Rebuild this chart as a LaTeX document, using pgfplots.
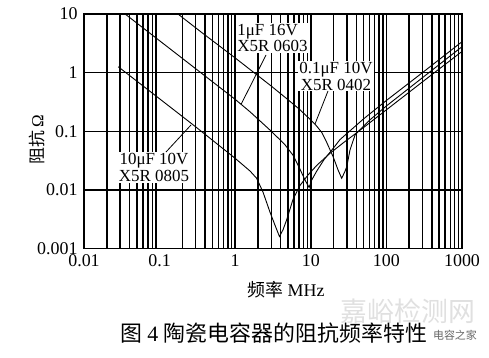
\documentclass[border=0pt]{standalone}
\usepackage{pgfplots}
\pgfplotsset{compat=1.18}
\usepackage{fontspec}
\setmainfont{Liberation Serif}
\newfontfamily\cjk{Noto Sans CJK SC}

\begin{document}
\begin{tikzpicture}
\path[use as bounding box] (0bp,0bp) rectangle (489bp,-358bp);
\begin{axis}[
  at={(84bp,-248.5bp)}, anchor=south west,
  width=378bp, height=234.5bp, scale only axis,
  xmode=log, ymode=log,
  xmin=0.01, xmax=1000, ymin=0.001, ymax=10,
  xtick={0.01,0.1,1,10,100,1000},
  xticklabels={0.01,0.1,1,10,100,1000},
  ytick={0.001,0.01,0.1,1,10},
  yticklabels={0.001,0.01,0.1,1,10},
  minor xtick={0.02,0.03,0.04,0.05,0.06,0.07,0.08,0.09,0.2,0.3,0.4,0.5,0.6,0.7,0.8,0.9,1,2,3,4,5,6,7,8,9,10,20,30,40,50,60,70,80,90,100,200,300,400,500,600,700,800,900},
  xminorgrids=true, xmajorgrids=false, ymajorgrids=true, yminorgrids=false,
  major tick length=0pt, minor tick length=0pt,
  grid style={black, line width=1.5bp},
  minor grid style={black, line width=1.5bp},
  axis line style={black, line width=1.5bp},
  tick label style={font=\fontsize{18}{18}\selectfont},
  xticklabel style={yshift=-3bp},
  yticklabel style={xshift=-3bp},
]
% 10uF 10V X5R 0805
\addplot[black, line width=0.9bp] coordinates {
(0.0284,1.26) (0.1,0.358) (0.3,0.119) (1,0.0345) (1.57,0.021) (1.92,0.0158)
(2.33,0.0092) (2.88,0.0042) (3.36,0.0025) (3.85,0.0016) (4.3,0.0021) (4.8,0.0031)
(5.82,0.0069) (7.2,0.0119) (9.2,0.018) (12,0.0262) (17.9,0.042) (26.7,0.063)
(50,0.116) (100,0.232) (300,0.696) (1000,2.3)
};
% 1uF 16V X5R 0603
\addplot[black, line width=0.9bp] coordinates {
(0.035,10) (0.1,3.5) (0.3,1.167) (1,0.35) (1.57,0.215) (2.88,0.105) (4.5,0.06)
(5.82,0.039) (7.2,0.0225) (8.37,0.0148) (9.5,0.011) (10.3,0.0148) (12,0.021)
(15,0.033) (20,0.052) (24.3,0.072) (50,0.163) (100,0.335) (300,1.0) (1000,3.37)
};
% 0.1uF 10V X5R 0402
\addplot[black, line width=0.9bp] coordinates {
(0.175,10) (0.342,5.1) (1,1.78) (3,0.59) (4.8,0.36) (7,0.24) (10.3,0.15) (12,0.122)
(14,0.095) (16.2,0.065) (19.7,0.037) (22.9,0.022) (25.6,0.0158) (28,0.02)
(29.9,0.0249) (33,0.048) (38.5,0.0865) (42.1,0.098) (60,0.155) (100,0.27)
(300,0.82) (1000,2.77)
};
\end{axis}
\begin{scope}[x=1bp, y=-1bp]
  % labels
  \node[fill=white, inner sep=1bp, align=left, font=\fontsize{17}{17}\selectfont] at (272.5,38) {1μF 16V\\X5R 0603};
  \node[fill=white, inner sep=1bp, align=center, font=\fontsize{17}{17}\selectfont] at (336,76) {0.1μF 10V\\X5R 0402};
  \node[fill=white, inner sep=1bp, align=center, font=\fontsize{17}{17}\selectfont] at (154,167.5) {10μF 10V\\X5R 0805};
  % leaders
  \draw[black, line width=0.8bp] (266,55) -- (241,104.5);
  \draw[black, line width=0.8bp] (328,91) -- (315,124);
  \draw[black, line width=0.8bp] (166,152) -- (191,125);
  % axis labels
  \node[rotate=90, font=\fontsize{17}{17}\selectfont] at (37,140) {{\cjk 阻抗}\,Ω};
  \node[font=\fontsize{18}{18}\selectfont] at (286,290) {{\cjk 频率} MHz};
  % watermark
  \node[text=black!12, font=\fontsize{27}{27}\selectfont\cjk] at (408,311) {嘉峪检测网};
  % caption
  \node[font=\fontsize{22}{22}\selectfont] at (273.5,333) {{\cjk 图} 4 {\cjk 陶瓷电容器的阻抗频率特性}};
  \node[text=black!60, font=\fontsize{11}{11}\selectfont\cjk] at (455,335) {电容之家};
\end{scope}
\end{tikzpicture}
\end{document}
